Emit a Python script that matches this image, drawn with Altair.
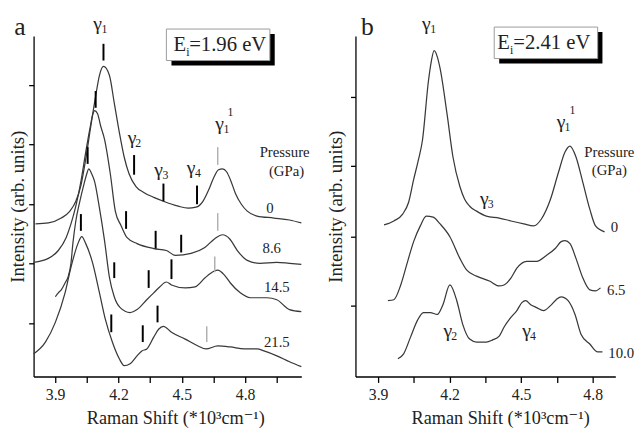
import altair as alt
import pandas as pd

FONT = "'Liberation Serif', 'DejaVu Serif', 'Times New Roman', serif"
INK = "#222222"

# ---------------- Panel a (E_i = 1.96 eV) ----------------
A_SERIES = ["0", "8.6", "14.5", "21.5"]
A_X = {
    "0": [3.807, 3.868, 3.929, 3.970, 3.998, 4.022, 4.045, 4.068, 4.092, 4.110, 4.129, 4.157, 4.180, 4.204,
          4.227, 4.250, 4.283, 4.320, 4.367, 4.413, 4.483, 4.530, 4.567, 4.600, 4.628, 4.651, 4.674, 4.693,
          4.712, 4.730, 4.754, 4.782, 4.810, 4.856, 4.936, 5.010, 5.066],
    "8.6": [3.798, 3.868, 3.915, 3.952, 3.975, 3.998, 4.022, 4.045, 4.064, 4.078, 4.087, 4.101, 4.115, 4.134,
            4.162, 4.185, 4.213, 4.241, 4.288, 4.367, 4.427, 4.469, 4.544, 4.609, 4.656, 4.693, 4.726, 4.763,
            4.810, 4.870, 4.950, 5.010, 5.066],
    "14.5": [3.901, 3.915, 3.929, 3.947, 3.961, 3.975, 3.984, 3.998, 4.017, 4.036, 4.050, 4.059, 4.073, 4.087,
             4.110, 4.134, 4.157, 4.180, 4.208, 4.255, 4.288, 4.334, 4.367, 4.395, 4.427, 4.451, 4.516, 4.563,
             4.609, 4.637, 4.670, 4.702, 4.730, 4.777, 4.824, 4.903, 4.950, 5.010, 5.066],
    "21.5": [3.798, 3.854, 3.901, 3.947, 3.975, 4.008, 4.026, 4.045, 4.078, 4.110, 4.138, 4.171, 4.204, 4.227,
             4.255, 4.288, 4.311, 4.334, 4.367, 4.390, 4.413, 4.451, 4.516, 4.577, 4.614, 4.670, 4.730, 4.796,
             4.856, 4.889, 4.950, 5.010, 5.066],
}
A_H = {
    "0": [155, 156, 161, 168, 178, 194, 221, 253, 285, 306, 315, 306, 278, 248,
          223, 206, 193, 187, 182, 178, 173, 171, 172, 178, 190, 202, 210, 211,
          208, 200, 186, 175, 168, 163, 161, 159, 156],
    "8.6": [116, 120, 128, 141, 155, 173, 198, 228, 251, 266, 270, 267, 255, 241,
            205, 168, 153, 141, 135, 130, 128, 123, 125, 131, 140, 144, 140, 128,
            118, 115, 116, 115, 114],
    "14.5": [81, 85, 88, 95, 101, 115, 135, 158, 178, 195, 206, 211, 206, 198,
             171, 138, 101, 81, 70, 65, 68, 78, 85, 91, 96, 93, 90, 91,
             100, 105, 108, 103, 95, 85, 80, 80, 78, 68, 66],
    "21.5": [23, 35, 55, 85, 111, 135, 142, 135, 115, 85, 58, 35, 18, 11,
             13, 21, 26, 28, 40, 48, 51, 45, 38, 31, 28, 31, 30, 28,
             28, 26, 21, 15, 10],
}
# peak markers: position, top, bottom, kind
A_MARK_X = [4.129, 4.274, 4.413, 4.572, 4.670,
            4.092, 4.236, 4.376, 4.497, 4.670,
            4.054, 4.180, 4.343, 4.451, 4.656,
            4.022, 4.166, 4.315, 4.385, 4.618]
A_MARK_TOP = [338, 225, 196, 194, 233,
              290, 168, 148, 144, 166,
              233, 116, 108, 119, 122,
              165, 63, 52, 72, 51]
A_MARK_BOT = [321, 205, 178, 175, 215,
              273, 150, 130, 126, 148,
              216, 100, 90, 99, 106,
              148, 45, 35, 55, 35]
A_MARK_KIND = ["k", "k", "k", "k", "g"] * 4

# ---------------- Panel b (E_i = 2.41 eV) ----------------
B_SERIES = ["0", "6.5", "10.0"]
B_X = {
    "0": [3.925, 3.966, 4.003, 4.028, 4.049, 4.069, 4.086, 4.111, 4.123, 4.135, 4.148, 4.160, 4.189, 4.214,
          4.243, 4.263, 4.284, 4.313, 4.354, 4.408, 4.457, 4.511, 4.552, 4.585, 4.623, 4.656, 4.684, 4.705,
          4.730, 4.759, 4.788, 4.812, 4.850],
    "6.5": [3.941, 3.966, 3.995, 4.024, 4.049, 4.077, 4.102, 4.131, 4.160, 4.201, 4.243, 4.272, 4.313, 4.367,
            4.408, 4.428, 4.457, 4.482, 4.523, 4.565, 4.606, 4.643, 4.668, 4.684, 4.705, 4.730, 4.759, 4.788,
            4.812, 4.833],
    "10.0": [3.983, 4.007, 4.036, 4.065, 4.090, 4.119, 4.148, 4.172, 4.201, 4.230, 4.255, 4.284, 4.313, 4.354,
             4.379, 4.408, 4.428, 4.457, 4.482, 4.503, 4.519, 4.540, 4.565, 4.594, 4.623, 4.647, 4.668, 4.697,
             4.726, 4.751, 4.788, 4.821, 4.841],
}
B_H = {
    "0": [154, 158, 165, 177, 200, 220, 240, 300, 320, 331, 325, 313, 267, 223,
          193, 180, 173, 168, 163, 161, 158, 155, 153, 160, 180, 207, 228, 234,
          223, 197, 170, 153, 147],
    "6.5": [77, 78, 93, 117, 137, 153, 163, 162, 155, 142, 120, 108, 102, 97,
            92, 93, 100, 110, 117, 117, 123, 130, 137, 138, 135, 120, 100, 88,
            87, 90],
    "10.0": [18, 23, 40, 57, 65, 65, 63, 73, 93, 77, 53, 38, 35, 35,
             37, 41, 50, 60, 67, 75, 77, 73, 70, 67, 72, 78, 81, 77,
             63, 43, 33, 25, 25],
}

# ---------------- annotations (data coordinates) ----------------
A_GAMMA_X = [4.101, 4.264, 4.390, 4.544, 4.679]
A_GAMMA_H = [358, 242, 210, 212, 256]
A_SUB_TEXT = ["1", "2", "3", "4", "1"]
A_SUB_X = [4.120, 4.280, 4.408, 4.562, 4.697]
A_SUB_H = [353, 237, 205, 207, 251]
A_SUP_X = [4.716]
A_SUP_H = [269]
A_PRESS_X = [4.987, 4.996]
A_PRESS_H = [228, 209]
A_LBL_X = [4.917, 4.926, 4.950, 4.950]
A_LBL_H = [171, 130, 91, 35]

B_GAMMA_X = [4.102, 4.346, 4.668, 4.193, 4.523]
B_GAMMA_H = [358, 180, 258, 46, 46]
B_SUB_TEXT = ["1", "3", "1", "2", "4"]
B_SUB_X = [4.119, 4.360, 4.682, 4.207, 4.537]
B_SUB_H = [353, 175, 253, 41, 41]
B_SUP_X = [4.703]
B_SUP_H = [271]
B_PRESS_X = [4.870, 4.870]
B_PRESS_H = [228, 210]
B_LBL_X = [4.891, 4.899, 4.920]
B_LBL_H = [152, 88, 24]

A_BOX = dict(x=4.427, x2=4.917, h=353, h2=321)
A_SHADOW = dict(x=4.451, x2=4.940, h=348, h2=316)
B_BOX = dict(x=4.387, x2=4.821, h=355, h2=323)
B_SHADOW = dict(x=4.408, x2=4.841, h=350, h2=318)
A_EI = dict(x=4.521, h=337, hs=330, val="=1.96 eV")
B_EI = dict(x=4.453, h=339, hs=332, val="=2.41 eV")
A_LETTER = dict(x=3.733, h=355, t="a")
B_LETTER = dict(x=3.855, h=355, t="b")


def build_panel(series, xs, hs, mx, mt, mb, mk, gx, gh, st, sx, sh, supx, suph,
                px, ph, lx, lh, box, shadow, ei, letter, xdom, ydom, xticks, yticks, w, h, ytp, xtitle_x):
    labelled = ["3.9", "4.2", "4.5", "4.8"]
    xaxis = alt.Axis(values=xticks, grid=False, title="Raman Shift (*10³cm⁻¹)",
                     labelExpr="indexof(%s, format(datum.value, '.1f')) >= 0 ? format(datum.value, '.1f') : ''" % str(labelled),
                     tickSize=6, labelPadding=4, titlePadding=7, titleX=xtitle_x,
                     labelFontSize=16, titleFontSize=18.5)
    yaxis = alt.Axis(values=yticks, grid=False, labels=False, title="Intensity (arb. units)",
                     tickSize=5, titlePadding=ytp, titleFontSize=19)
    X = lambda f: alt.X(f, type="quantitative", scale=alt.Scale(domain=xdom, nice=False, zero=False), axis=xaxis)
    Y = lambda f: alt.Y(f, type="quantitative", scale=alt.Scale(domain=ydom, nice=False, zero=False), axis=yaxis)

    rows = []
    for s in series:
        for i, (xv, hv) in enumerate(zip(xs[s], hs[s])):
            rows.append({"series": s, "i": i, "x": xv, "h": hv})
    df = pd.DataFrame(rows)
    lines = alt.Chart(df).mark_line(color="#383838", strokeWidth=1.25, interpolate="monotone").encode(
        x=X("x"), y=Y("h"), detail="series:N", order="i:Q")

    mdf = pd.DataFrame({"x": mx, "h": mt, "h2": mb, "kind": mk})
    rules_k = alt.Chart(mdf[mdf.kind == "k"]).mark_rule(color="black", strokeWidth=2).encode(
        x=X("x"), y=Y("h"), y2="h2")
    rules_g = alt.Chart(mdf[mdf.kind == "g"]).mark_rule(color="#b0b0b0", strokeWidth=1.5).encode(
        x=X("x"), y=Y("h"), y2="h2")

    sdf = pd.DataFrame([shadow])
    bdf = pd.DataFrame([box])
    shad = alt.Chart(sdf).mark_rect(color="black").encode(x=X("x"), x2="x2", y=Y("h"), y2="h2")
    bx = alt.Chart(bdf).mark_rect(fill="white", stroke="#9a9a9a", strokeWidth=1).encode(
        x=X("x"), x2="x2", y=Y("h"), y2="h2")

    def txt(xv, hv, t, size, align="center", baseline="middle"):
        d = pd.DataFrame({"x": xv, "h": hv, "t": t})
        return alt.Chart(d).mark_text(font=FONT, fontSize=size, color=INK, align=align, baseline=baseline).encode(
            x=X("x"), y=Y("h"), text="t:N")

    layers = [lines, rules_k, rules_g, shad, bx,
              txt(gx, gh, ["γ"] * len(gx), 20),
              txt(sx, sh, st, 12, align="left"),
              txt(supx, suph, ["1"], 12, align="left"),
              txt(px, ph, ["Pressure", "(GPa)"], 15),
              txt(lx, lh, series, 15),
              txt([ei["x"]], [ei["h"]], ["E"], 21, align="right"),
              txt([ei["x"]], [ei["hs"]], ["i"], 12, align="left"),
              txt([ei["x"] + 0.014], [ei["h"]], [ei["val"]], 21, align="left"),
              txt([letter["x"]], [letter["h"]], [letter["t"]], 26)]
    return alt.layer(*layers).properties(width=w, height=h)


a_ticks = [3.9, 4.05, 4.2, 4.35, 4.5, 4.65, 4.8, 4.95]
b_ticks = [3.9, 4.05, 4.2, 4.35, 4.5, 4.65, 4.8]

panel_a = build_panel(A_SERIES, A_X, A_H, A_MARK_X, A_MARK_TOP, A_MARK_BOT, A_MARK_KIND,
                      A_GAMMA_X, A_GAMMA_H, A_SUB_TEXT, A_SUB_X, A_SUB_H, A_SUP_X, A_SUP_H,
                      A_PRESS_X, A_PRESS_H, A_LBL_X, A_LBL_H, A_BOX, A_SHADOW, A_EI, A_LETTER,
                      [3.798, 5.066], [0, 346], a_ticks, [54, 115, 175, 236, 296], 272, 346, 1, 144)
panel_b = build_panel(B_SERIES, B_X, B_H, [], [], [], [],
                      B_GAMMA_X, B_GAMMA_H, B_SUB_TEXT, B_SUB_X, B_SUB_H, B_SUP_X, B_SUP_H,
                      B_PRESS_X, B_PRESS_H, B_LBL_X, B_LBL_H, B_BOX, B_SHADOW, B_EI, B_LETTER,
                      [3.805, 4.895], [0, 346], b_ticks, [72, 142, 214, 284], 264, 346, 4.5, 147)

chart = alt.hconcat(panel_a, panel_b, spacing=16).properties(
    padding={"left": 0, "top": 2, "right": 0, "bottom": 0}
).configure_view(strokeWidth=0).configure_axis(
    domainColor="black", domainWidth=1.3, tickColor="black", tickWidth=1.3,
    labelFont=FONT, labelColor=INK,
    titleFont=FONT, titleFontWeight="normal", titleColor=INK
)

chart.save("out.html", embed_options={"renderer": "svg", "actions": False})
